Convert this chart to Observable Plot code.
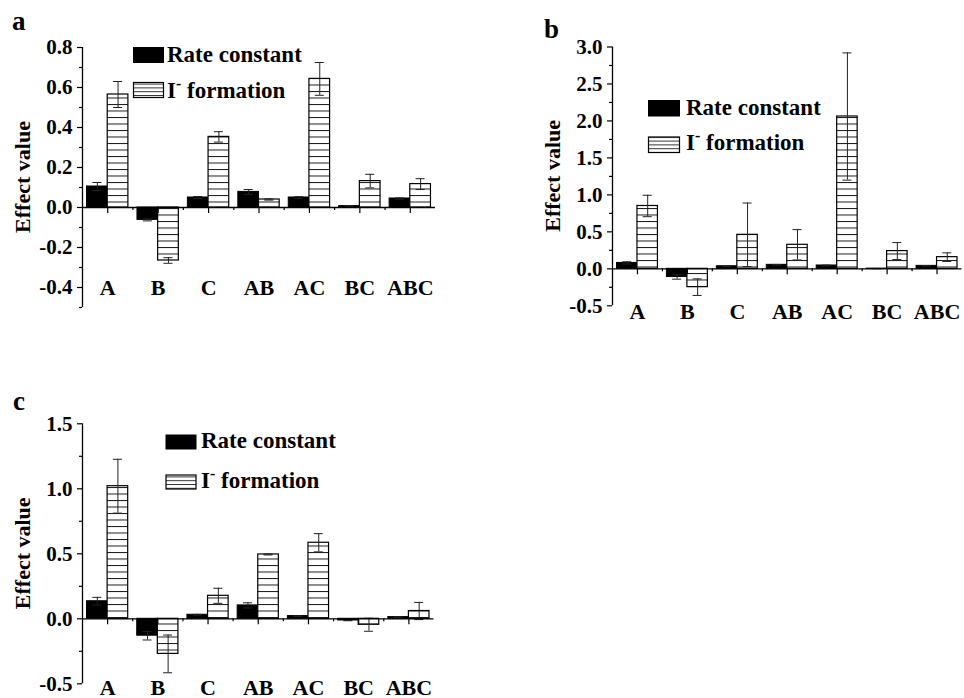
<!DOCTYPE html>
<html>
<head>
<meta charset="utf-8">
<script src="https://cdn.jsdelivr.net/npm/d3@7"></script>
<script src="https://cdn.jsdelivr.net/npm/@observablehq/plot@0.6"></script>
<style>
  body { margin: 0; background: #fff; width: 964px; height: 698px; position: relative; overflow: hidden; }
  .panel { position: absolute; }
  .panel svg { overflow: visible; }
</style>
</head>
<body>
<div id="panel-a" class="panel" style="left:0px; top:0px"></div>
<div id="panel-b" class="panel" style="left:530px; top:0px"></div>
<div id="panel-c" class="panel" style="left:0px; top:370px"></div>
<script>
// Factors and their interactions, two responses per factor
const categories = ["A", "B", "C", "AB", "AC", "BC", "ABC"];
const seriesNames = ["Rate constant", "I⁻ formation"];

// Panel a
const rateA    = [0.105, -0.062, 0.050, 0.078, 0.050, 0.007, 0.045];
const rateErrA = [0.020, 0.005, 0.005, 0.012, 0.004, 0.002, 0.003];
const iodA     = [0.565, -0.265, 0.353, 0.040, 0.643, 0.132, 0.117];
const iodErrA  = [0.065, 0.014, 0.026, 0.003, 0.082, 0.034, 0.027];
const majorTicksA = [-0.4, -0.2, 0.0, 0.2, 0.4, 0.6, 0.8];
const minorTicksA = [-0.5, -0.3, -0.1, 0.1, 0.3, 0.5, 0.7];

// Panel b
const rateB    = [0.080, -0.110, 0.035, 0.054, 0.045, 0.003, 0.040];
const rateErrB = [0.015, 0.030, 0.005, 0.005, 0.005, 0.002, 0.004];
const iodB     = [0.850, -0.248, 0.460, 0.325, 2.060, 0.240, 0.158];
const iodErrB  = [0.145, 0.112, 0.430, 0.205, 0.860, 0.115, 0.058];
const majorTicksB = [-0.5, 0.0, 0.5, 1.0, 1.5, 2.0, 2.5, 3.0];
const minorTicksB = [-0.25, 0.25, 0.75, 1.25, 1.75, 2.25, 2.75];

// Panel c
const rateC    = [0.135, -0.130, 0.031, 0.103, 0.021, -0.013, 0.013];
const rateErrC = [0.030, 0.033, 0.003, 0.020, 0.002, 0.002, 0.002];
const iodC     = [1.020, -0.270, 0.177, 0.495, 0.585, -0.046, 0.060];
const iodErrC  = [0.207, 0.145, 0.058, 0.004, 0.070, 0.050, 0.066];
const majorTicksC = [-0.5, 0.0, 0.5, 1.0, 1.5];
const minorTicksC = [-0.25, 0.25, 0.75, 1.25];

const FONT = "'Liberation Serif', 'Times New Roman', serif";
const BAR = 0.41;              // bar width as a fraction of one category step
const CENTER_TICKS = categories.map((d, i) => i);
const MID_TICKS = categories.slice(1).map((d, i) => i + 0.5);

function panel(cfg) {
  const rows = categories.map((c, i) => ({cat: c, i}));
  const rateRows = rows.map(r => ({...r, v: cfg.rate[r.i], e: cfg.rateErr[r.i], x1: r.i - BAR, x2: r.i}));
  const iodRows = rows.map(r => ({...r, v: cfg.iod[r.i], e: cfg.iodErr[r.i], x1: r.i, x2: r.i + BAR}));
  const allRows = [...rateRows, ...iodRows];
  const mid = d => (d.x1 + d.x2) / 2;
  const pid = "stripes-" + cfg.key;
  const [mL, mT, mR, mB] = cfg.margin;

  const svg = Plot.plot({
    width: cfg.width,
    height: cfg.height,
    marginLeft: mL,
    marginTop: mT,
    marginRight: mR,
    marginBottom: mB,
    x: {domain: [-0.5, categories.length - 0.5], axis: null},
    y: {domain: cfg.yDomain, axis: null},
    style: {fontFamily: FONT, fontWeight: "bold", fontSize: "21px", color: "black", background: "transparent"},
    marks: [
      Plot.rect(rateRows, {x1: "x1", x2: "x2", y1: 0, y2: "v", fill: "black", stroke: "black", strokeWidth: 1}),
      Plot.rect(iodRows, {x1: "x1", x2: "x2", y1: 0, y2: "v", fill: `url(#${pid})`, stroke: "black", strokeWidth: 1.2}),
      // error bars
      Plot.ruleX(allRows, {x: mid, y1: d => d.v - d.e, y2: d => d.v + d.e, stroke: "#222", strokeWidth: 1}),
      Plot.ruleY(allRows, {x1: mid, x2: mid, y: d => d.v + d.e, insetLeft: -4.5, insetRight: -4.5, stroke: "#222", strokeWidth: 1}),
      Plot.ruleY(allRows, {x1: mid, x2: mid, y: d => d.v - d.e, insetLeft: -4.5, insetRight: -4.5, stroke: "#222", strokeWidth: 1}),
      // zero baseline with category ticks
      Plot.ruleY([0], {stroke: "black", strokeWidth: 1.3}),
      Plot.ruleX(CENTER_TICKS, {x: d => d, y1: 0, y2: 0, insetBottom: -6, stroke: "black", strokeWidth: 1.2}),
      Plot.ruleX(MID_TICKS, {x: d => d, y1: 0, y2: 0, insetBottom: -3, stroke: "black", strokeWidth: 1.2}),
      // left axis
      Plot.ruleX([-0.5], {stroke: "black", strokeWidth: 1.3}),
      Plot.axisY(cfg.major, {tickSize: 5, tickPadding: 5, tickFormat: d => d.toFixed(1), strokeWidth: 1.2,
        fontSize: 21, fontWeight: "bold", fontFamily: FONT, label: null}),
      Plot.axisY(cfg.minor, {tickSize: 3, tickFormat: () => "", strokeWidth: 1.2, label: null}),
      Plot.text(categories, {x: (d, i) => i, text: d => d, frameAnchor: "bottom", dy: cfg.labelDy,
        lineAnchor: "middle", fontSize: 22, fontWeight: "bold", fontFamily: FONT})
    ]
  });

  const s = d3.select(svg);
  const defs = s.insert("defs", ":first-child");
  const pat = defs.append("pattern").attr("id", pid).attr("patternUnits", "userSpaceOnUse")
    .attr("width", 10).attr("height", 6.5);
  pat.append("rect").attr("width", 10).attr("height", 6.5).attr("fill", "white");
  pat.append("rect").attr("y", 0).attr("width", 10).attr("height", 1).attr("fill", "#1a1a1a");
  const lpat = defs.append("pattern").attr("id", pid + "-key").attr("patternUnits", "userSpaceOnUse")
    .attr("width", 10).attr("height", 3.8);
  lpat.append("rect").attr("width", 10).attr("height", 3.8).attr("fill", "white");
  lpat.append("rect").attr("y", 0).attr("width", 10).attr("height", 1).attr("fill", "#333");

  // y axis title, centred on the plot frame
  s.append("text")
    .attr("transform", `translate(${mL - 60},${(mT + cfg.height - mB) / 2}) rotate(-90)`)
    .attr("text-anchor", "middle").attr("dy", "0.35em")
    .attr("font-family", FONT).attr("font-weight", "bold").attr("font-size", 22)
    .text("Effect value");

  const L = cfg.legend;
  const g = s.append("g").attr("font-family", FONT).attr("font-weight", "bold").attr("font-size", 23)
    .attr("fill", "black").attr("text-anchor", "start");
  g.append("rect").attr("x", L.x).attr("y", L.y1).attr("width", L.w).attr("height", L.h).attr("fill", "black");
  g.append("text").attr("x", L.tx).attr("y", L.b1).text(seriesNames[0]);
  g.append("rect").attr("x", L.x + 0.5).attr("y", L.y2 + 0.5).attr("width", L.w - 1).attr("height", L.h - 1)
    .attr("fill", `url(#${pid}-key)`).attr("stroke", "black").attr("stroke-width", 1.2);
  const t2 = g.append("text").attr("x", L.tx).attr("y", L.b2);
  t2.append("tspan").text("I");
  t2.append("tspan").attr("dy", -9).attr("font-size", 16).text("-");
  t2.append("tspan").attr("dy", 9).text(" formation");

  s.append("text").attr("x", cfg.letter[0]).attr("y", cfg.letter[1]).attr("font-family", FONT)
    .attr("text-anchor", "start").attr("font-weight", "bold").attr("font-size", 27).text(cfg.key);

  document.getElementById("panel-" + cfg.key).appendChild(svg);
}

panel({
  key: "a", width: 470, height: 330, margin: [82, 47, 35, 23],
  yDomain: [-0.5, 0.8], major: majorTicksA, minor: minorTicksA,
  rate: rateA, rateErr: rateErrA, iod: iodA, iodErr: iodErrA, labelDy: -20,
  legend: {x: 133, y1: 47, y2: 82, w: 31, h: 16, tx: 167, b1: 62, b2: 97.5},
  letter: [12, 30]
});
panel({
  key: "b", width: 434, height: 330, margin: [82, 46.5, 2.5, 24.7],
  yDomain: [-0.5, 3.0], major: majorTicksB, minor: minorTicksB,
  rate: rateB, rateErr: rateErrB, iod: iodB, iodErr: iodErrB, labelDy: 6.5,
  legend: {x: 118, y1: 100, y2: 136.5, w: 32, h: 16.5, tx: 156, b1: 114.5, b2: 149.5},
  letter: [14, 38]
});
panel({
  key: "c", width: 470, height: 328, margin: [82, 53.3, 36.5, 14.7],
  yDomain: [-0.5, 1.5], major: majorTicksC, minor: minorTicksC,
  rate: rateC, rateErr: rateErrC, iod: iodC, iodErr: iodErrC, labelDy: 4,
  legend: {x: 165.5, y1: 64.5, y2: 104.5, w: 31, h: 15, tx: 201, b1: 78, b2: 117.5},
  letter: [13, 40]
});
</script>
</body>
</html>
